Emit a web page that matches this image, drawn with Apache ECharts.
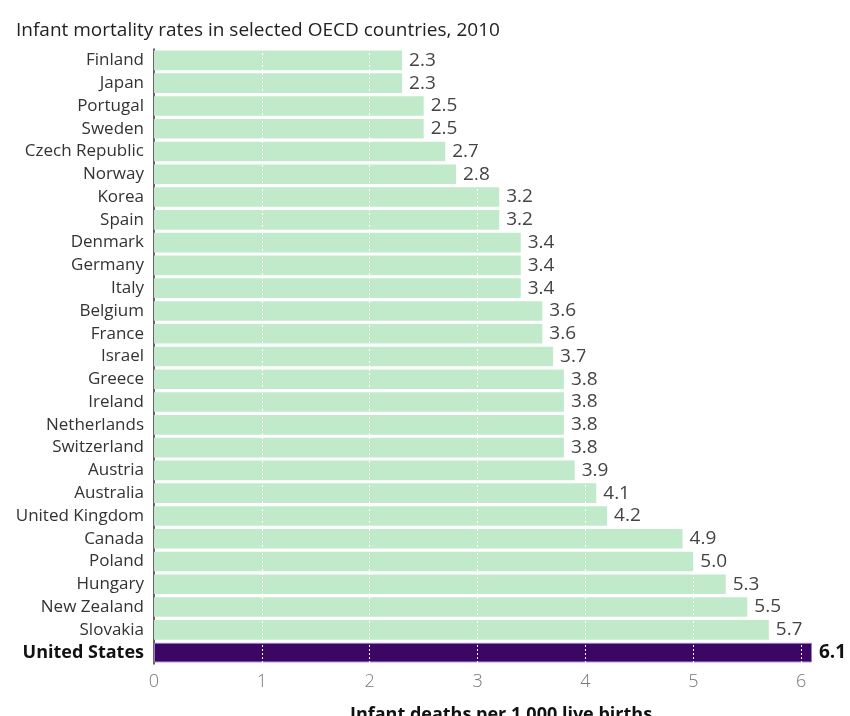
<!DOCTYPE html>
<html><head><meta charset="utf-8">
<script src="https://cdn.jsdelivr.net/npm/echarts@6/dist/echarts.min.js"></script>
<style>html,body{margin:0;padding:0;background:#fff}#c{width:850px;height:716px}</style>
</head><body><div id="c"></div>
<script>
const countries = ["Finland","Japan","Portugal","Sweden","Czech Republic","Norway","Korea","Spain","Denmark","Germany","Italy","Belgium","France","Israel","Greece","Ireland","Netherlands","Switzerland","Austria","Australia","United Kingdom","Canada","Poland","Hungary","New Zealand","Slovakia","United States"];
const rates = [2.3,2.3,2.5,2.5,2.7,2.8,3.2,3.2,3.4,3.4,3.4,3.6,3.6,3.7,3.8,3.8,3.8,3.8,3.9,4.1,4.2,4.9,5.0,5.3,5.5,5.7,6.1];
const gridValues = [1,2,3,4,5,6];
const highlight = "United States";
const titleText = "Infant mortality rates in selected OECD countries, 2010";
const axisTitle = "Infant deaths per 1,000 live births";

const FONT = "'Open Sans', sans-serif";
const chart = echarts.init(document.getElementById('c'));
const data = rates.map((v, i) => {
  const hi = countries[i] === highlight;
  return {
    value: v,
    itemStyle: hi ? {color: '#3c0764', borderColor: '#9a7cc0', borderWidth: 1} : {color: '#c0eaca'},
    label: hi ? {fontWeight: 'bold', color: '#111'} : {}
  };
});
chart.setOption({
  animation: false,
  title: {text: titleText, left: 11, top: 16, textStyle: {fontFamily: FONT, fontSize: 19, fontWeight: 'normal', color: '#222'}},
  grid: {left: 154, right: 38, top: 49, bottom: 52, outerBoundsMode: 'none', containLabel: false},
  xAxis: {
    type: 'value', min: 0, max: 6.1, interval: 1,
    axisLine: {show: false}, axisTick: {show: false}, splitLine: {show: false},
    axisLabel: {margin: 9, fontFamily: FONT, fontSize: 18, color: '#777', fontWeight: 300,
      formatter: v => Number.isInteger(v) ? String(v) : ''},
    name: axisTitle, nameLocation: 'middle', nameGap: 42,
    nameTextStyle: {fontFamily: FONT, fontSize: 18, fontWeight: 'bold', color: '#111', padding: [0, 0, 0, 36]}
  },
  yAxis: {
    type: 'category', data: countries, inverse: true,
    axisLine: {show: true, lineStyle: {color: '#333', width: 1.5}}, axisTick: {show: false},
    axisLabel: {margin: 10, fontFamily: FONT, fontSize: 17, color: '#333',
      formatter: v => v === highlight ? '{b|' + v + '}' : v,
      rich: {b: {fontFamily: FONT, fontSize: 18, fontWeight: 'bold', color: '#111'}}}
  },
  series: [{
    type: 'bar', data: data, barCategoryGap: '14%',
    label: {show: true, position: 'right', distance: 7, fontFamily: FONT, fontSize: 19, color: '#444',
      formatter: p => p.value.toFixed(1)},
    markLine: {
      silent: true, symbol: 'none', label: {show: false},
      lineStyle: {color: '#ffffff', type: [2, 2], width: 1},
      data: gridValues.map(v => ({xAxis: v}))
    }
  }]
});
</script></body></html>
